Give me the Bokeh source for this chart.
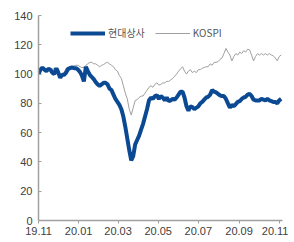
import pandas as pd
from datetime import datetime, timedelta
from bokeh.plotting import figure
from bokeh.models import Range1d, FixedTicker, DatetimeTickFormatter, Legend, LegendItem, ColumnDataSource
from bokeh.embed import file_html
from bokeh.resources import INLINE

START = "2019-11-01"
N_POINTS = 124
STEP = "3D"

HYUNDAI = [100, 103, 104.5, 103, 102, 103.5, 103, 101, 100, 104, 101, 97.5, 99.5, 99.5, 101, 103.5,
           104, 104.5, 104, 104, 103, 101.5, 99, 95, 105, 102, 99.5, 98, 96.5, 94.5, 93, 92,
           93, 94, 94, 93, 90, 89, 86, 83, 81, 79, 76, 71, 64, 56, 48, 41, 44, 52, 55, 58,
           62, 66, 71, 76, 82, 84, 83, 85, 85.5, 83, 85, 84, 82, 84, 81.5, 82, 83, 82.5, 84,
           86, 88, 88, 84, 78, 75, 78, 77.5, 76, 77, 78, 80, 81, 82.5, 84, 84.5, 86, 89, 88,
           87.5, 86.5, 85.5, 85, 85, 83, 80, 77, 79, 78, 79.5, 81, 81.5, 83, 84, 84.5, 86,
           86.5, 85, 82.5, 82, 82, 82, 83, 82.5, 82, 83, 82, 81.5, 81, 81, 80, 82, 83]

KOSPI = [101, 102.5, 103.5, 104, 103, 102.5, 102.5, 103.5, 103.5, 102, 104, 100, 99, 101, 104,
         104.5, 105, 105, 105.5, 106, 106, 105, 104.5, 104.5, 106, 107, 108, 108, 107, 107,
         106, 105, 106, 106.5, 107.5, 108, 107, 106, 105, 103, 102, 99, 97, 92, 87, 83, 76,
         72, 77, 82, 82.5, 84, 85, 85, 87, 89, 91, 92, 91, 93, 94, 92.5, 93, 94, 94, 95, 95,
         96, 97, 98.5, 100, 102, 103.5, 105, 102, 100, 102, 103, 101, 102, 101, 103, 103, 104,
         104.5, 105, 105, 107, 106, 108, 108, 108.5, 110, 111, 114, 117.5, 115, 113, 109, 112,
         114, 113, 115, 114, 116, 115, 117, 116.5, 113, 109, 112, 114, 113, 114, 113, 114,
         113, 114, 113, 112.5, 111, 109, 112, 113]

TICK_DATES = ["2019-11-01", "2020-01-01", "2020-03-01", "2020-05-01", "2020-07-01", "2020-09-01", "2020-11-01"]
Y_TICKS = [0, 20, 40, 60, 80, 100, 120, 140]
SERIES_NAMES = ["현대상사", "KOSPI"]

dates = pd.date_range(START, periods=N_POINTS, freq=STEP)
src = ColumnDataSource(dict(x=dates, h=HYUNDAI, k=KOSPI))

x_start = datetime(2019, 11, 1)
x_end = x_start + timedelta(days=371)

p = figure(width=288, height=240, output_backend="svg", toolbar_location=None,
           x_axis_type="datetime", x_range=Range1d(x_start, x_end), y_range=Range1d(0, 140),
           min_border_left=38, min_border_right=6, min_border_top=15, min_border_bottom=20)
p.outline_line_color = None
p.xgrid.visible = False
p.ygrid.visible = False
p.background_fill_color = "white"
p.border_fill_color = "white"

r_k = p.line("x", "k", source=src, line_color="#9f9f9f", line_width=1)
r_h = p.line("x", "h", source=src, line_color="#0b4a93", line_width=4)

tick_ms = [pd.Timestamp(d).value / 1e6 for d in TICK_DATES]
p.xaxis.ticker = FixedTicker(ticks=tick_ms)
fmt = "%y.%m"
p.xaxis.formatter = DatetimeTickFormatter(days=fmt, months=fmt, years=fmt, hours=fmt, minutes=fmt,
                                          seconds=fmt, milliseconds=fmt, microseconds=fmt, minsec=fmt,
                                          hourmin=fmt)
p.yaxis.ticker = FixedTicker(ticks=Y_TICKS)

for ax in (p.xaxis, p.yaxis):
    ax.axis_line_color = "#a0a0a0"
    ax.axis_line_width = 1.5
    ax.major_tick_line_color = "#a0a0a0"
    ax.minor_tick_line_color = None
    ax.major_label_text_font = "Liberation Sans"
    ax.major_label_text_font_size = "11px"
    ax.major_label_text_color = "#404040"

p.xaxis.major_tick_in = 0
p.xaxis.major_tick_out = 3
p.xaxis.major_label_standoff = 3
p.yaxis.major_tick_in = 3
p.yaxis.major_tick_out = 0
p.yaxis.major_label_standoff = 6

legend = Legend(items=[LegendItem(label=SERIES_NAMES[0], renderers=[r_h]),
                       LegendItem(label=SERIES_NAMES[1], renderers=[r_k])],
                orientation="horizontal", location=(32, 180))
legend.background_fill_alpha = 0
legend.border_line_color = None
legend.padding = 0
legend.margin = 0
legend.spacing = 10
legend.glyph_width = 35
legend.glyph_height = 12
legend.label_height = 12
legend.label_standoff = 3
legend.label_text_font = "Noto Sans CJK KR"
legend.label_text_font_size = "10px"
legend.label_text_color = "#555555"
p.add_layout(legend, "center")

open("out.html", "w").write(file_html(p, INLINE))
